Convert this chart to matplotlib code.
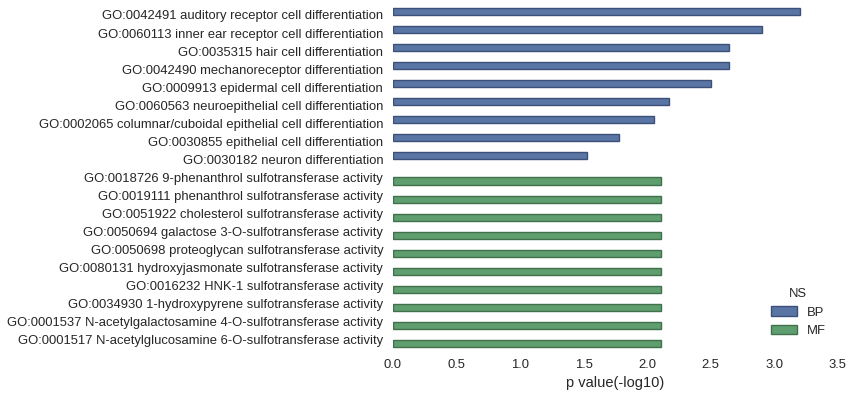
import numpy as np
import matplotlib
matplotlib.use("Agg")
import matplotlib.pyplot as plt

# GO terms and -log10 p values
bp_terms = [
    "GO:0042491 auditory receptor cell differentiation",
    "GO:0060113 inner ear receptor cell differentiation",
    "GO:0035315 hair cell differentiation",
    "GO:0042490 mechanoreceptor differentiation",
    "GO:0009913 epidermal cell differentiation",
    "GO:0060563 neuroepithelial cell differentiation",
    "GO:0002065 columnar/cuboidal epithelial cell differentiation",
    "GO:0030855 epithelial cell differentiation",
    "GO:0030182 neuron differentiation",
]
bp_values = [3.20, 2.90, 2.64, 2.64, 2.50, 2.17, 2.05, 1.78, 1.53]

mf_terms = [
    "GO:0018726 9-phenanthrol sulfotransferase activity",
    "GO:0019111 phenanthrol sulfotransferase activity",
    "GO:0051922 cholesterol sulfotransferase activity",
    "GO:0050694 galactose 3-O-sulfotransferase activity",
    "GO:0050698 proteoglycan sulfotransferase activity",
    "GO:0080131 hydroxyjasmonate sulfotransferase activity",
    "GO:0016232 HNK-1 sulfotransferase activity",
    "GO:0034930 1-hydroxypyrene sulfotransferase activity",
    "GO:0001537 N-acetylgalactosamine 4-O-sulfotransferase activity",
    "GO:0001517 N-acetylglucosamine 6-O-sulfotransferase activity",
]
mf_values = [2.11] * 10

plt.rcParams['font.family'] = ['Liberation Sans', 'DejaVu Sans']
text_color = '#262626'

fig = plt.figure(figsize=(8.55, 3.97), dpi=100)
ax = fig.add_axes([0.4596, 0.121, 0.5204, 0.864])

n_bp = len(bp_terms)
y_bp = np.arange(n_bp)
y_mf = np.arange(n_bp, n_bp + len(mf_terms))

# hue dodge: BP sits in the upper half of its slot, MF in the lower half
ax.barh(y_bp - 0.2, bp_values, height=0.4, color='#5875A4',
        edgecolor='#3c5078', linewidth=1, label='BP')
ax.barh(y_mf + 0.2, mf_values, height=0.4, color='#5F9E6E',
        edgecolor='#41704c', linewidth=1, label='MF')

ax.set_yticks(np.concatenate([y_bp, y_mf]))
ax.set_yticklabels(bp_terms + mf_terms, fontsize=9.4, color=text_color)
ax.set_ylim(n_bp + len(mf_terms) - 0.5, -0.5)
ax.set_xlim(0, 3.5)
ax.set_xticks(np.arange(0, 3.6, 0.5))
ax.tick_params(axis='x', labelsize=9.4, colors=text_color, length=0, pad=7)
ax.tick_params(axis='y', length=0, pad=7)
ax.set_xlabel('p value(-log10)', fontsize=10.5, color=text_color, labelpad=4)

for s in ax.spines.values():
    s.set_visible(False)

leg = ax.legend(title='NS', loc='lower right', frameon=False, fontsize=9.4,
                title_fontsize=9.4, bbox_to_anchor=(1.0, 0.0))
for t in leg.get_texts():
    t.set_color(text_color)
leg.get_title().set_color(text_color)

fig.savefig('out.png', dpi=100)
